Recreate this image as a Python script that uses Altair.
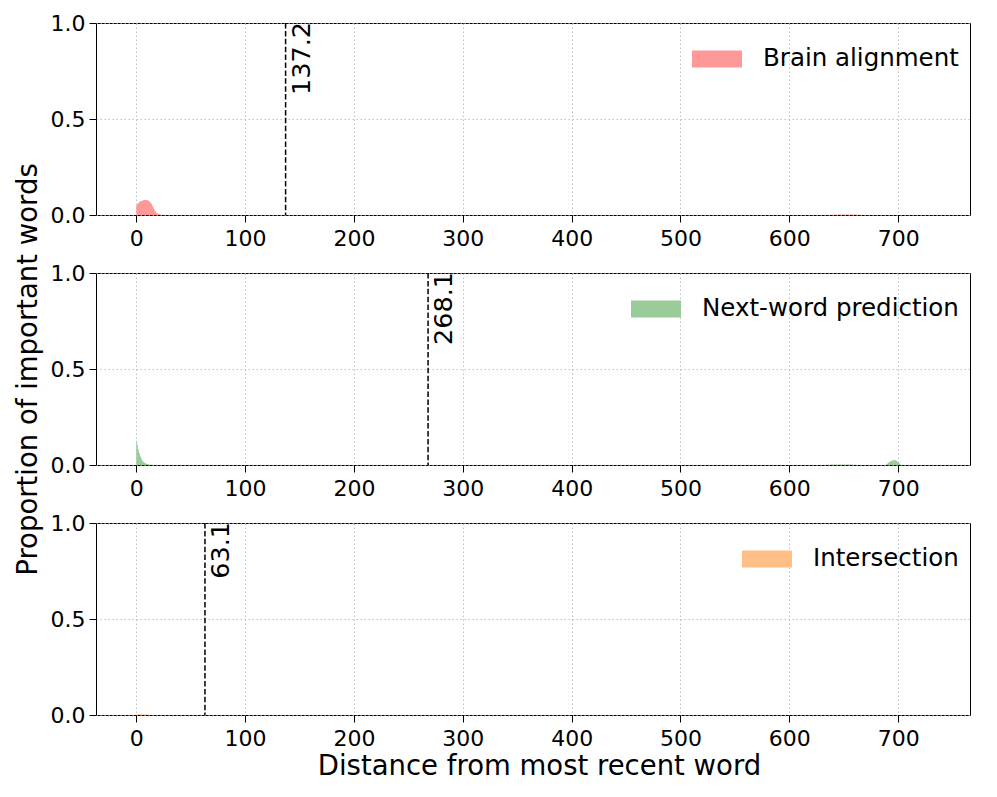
import altair as alt
import pandas as pd

FONT = "DejaVu Sans"

x_domain = [-37, 766]
x_ticks = [0, 100, 200, 300, 400, 500, 600, 700]
y_ticks = [0.0, 0.5, 1.0]

series_names = ["Brain alignment", "Next-word prediction", "Intersection"]
series_colors = ["#ff9999", "#99cc99", "#ffbf86"]
medians = [137.2, 268.1, 63.1]

brain_x = [0, 2, 4, 6, 8, 10, 12, 14, 16, 18, 20, 22, 25, 30, 636, 645, 652, 660, 668, 766]
brain_y = [0.048, 0.062, 0.071, 0.076, 0.078, 0.077, 0.072, 0.058, 0.035, 0.016, 0.006, 0.002, 0.0, 0.0,
           0.0, 0.002, 0.003, 0.002, 0.0, 0.0]

next_x = [0, 1, 2, 3, 4, 5, 6, 7, 8, 10, 12, 15, 20, 30, 630, 640, 648, 656, 665,
          688, 691, 694, 697, 700, 703, 766]
next_y = [0.13, 0.11, 0.08, 0.06, 0.043, 0.03, 0.02, 0.014, 0.01, 0.005, 0.003, 0.001, 0.0, 0.0,
          0.0, 0.002, 0.003, 0.002, 0.0,
          0.0, 0.012, 0.022, 0.026, 0.015, 0.0, 0.0]

inter_x = [0, 3, 6, 10, 14, 20, 766]
inter_y = [0.003, 0.004, 0.003, 0.002, 0.0, 0.0, 0.0]

all_x = [brain_x, next_x, inter_x]
all_y = [brain_y, next_y, inter_y]


def panel(i):
    name = series_names[i]
    color = series_colors[i]
    df = pd.DataFrame({"x": all_x[i], "y": all_y[i], "series": name})
    last = i == 2
    x_axis = alt.Axis(
        values=x_ticks,
        title="Distance from most recent word" if last else None,
        grid=True,
        labelPadding=6,
        titlePadding=3,
        titleX=443,
    )
    y_axis = alt.Axis(
        values=y_ticks,
        format=".1f",
        title="Proportion of important words" if i == 1 else None,
        grid=True,
        labelPadding=4,
        titlePadding=8,
    )
    area = alt.Chart(df).mark_area(opacity=1, interpolate="monotone").encode(
        x=alt.X("x:Q", scale=alt.Scale(domain=x_domain, nice=False, zero=False), axis=x_axis),
        y=alt.Y("y:Q", scale=alt.Scale(domain=[0, 1], nice=False), axis=y_axis),
        color=alt.Color(
            "series:N",
            scale=alt.Scale(domain=[name], range=[color]),
            legend=alt.Legend(
                title=None,
                orient="top-right",
                offset=11,
                symbolType="M-1,-0.34H1V0.34H-1Z",
                symbolSize=2500,
                symbolStrokeWidth=0,
                symbolOpacity=1,
                labelFontSize=24.5,
                labelFont=FONT,
                labelColor="black",
                labelOffset=21,
                labelLimit=500,
            ),
        ),
    )
    mdf = pd.DataFrame({"m": [medians[i]], "label": [f"{medians[i]:.1f}"]})
    rule = alt.Chart(mdf).mark_rule(color="black", strokeDash=[5.5, 2.4], strokeWidth=1.5).encode(
        x=alt.X("m:Q")
    )
    text = alt.Chart(mdf).mark_text(
        angle=270, align="right", baseline="top", dy=4, dx=1, fontSize=25.5, font=FONT, color="black"
    ).encode(x=alt.X("m:Q"), y=alt.value(0), text="label:N")
    return alt.layer(area, rule, text).resolve_scale(color="independent").properties(width=874, height=192)


chart = alt.vconcat(panel(0), panel(1), panel(2), spacing=58, bounds="flush").resolve_scale(
    color="independent"
).resolve_legend(color="independent").properties(
    padding={"left": 5, "top": 3, "right": 5, "bottom": 5}
).configure(font=FONT).configure_view(
    stroke="black", strokeWidth=1
).configure_axis(
    labelFont=FONT,
    titleFont=FONT,
    labelFontSize=22,
    titleFontSize=27.5,
    titleFontWeight="normal",
    labelColor="black",
    titleColor="black",
    tickColor="black",
    tickSize=7,
    tickWidth=1,
    domain=False,
    gridColor="#b0b0b0",
    gridDash=[1.5, 2.5],
    gridWidth=0.8,
)

chart.save("out.html", embed_options={"renderer": "svg", "actions": False})
